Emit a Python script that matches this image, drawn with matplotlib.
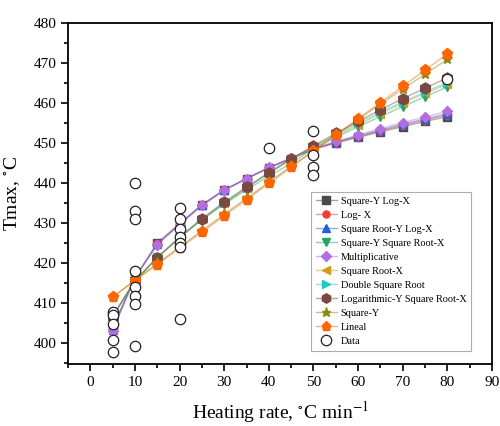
import matplotlib
matplotlib.use('Agg')
import matplotlib.pyplot as plt
from matplotlib.ticker import MultipleLocator

plt.rcParams['font.family'] = ['Liberation Serif', 'DejaVu Serif']
plt.rcParams['mathtext.fontset'] = 'stix'

# heating rates of the model curves
rate = [5, 10, 15, 20, 25, 30, 35, 40, 45, 50, 55, 60, 65, 70, 75, 80]

sqy_logx = [403.8, 416.3, 424.9, 429.8, 434.5, 438.2, 441.0, 443.7, 446.0, 448.3, 449.9, 451.3, 452.7, 454.0, 455.3, 456.5]
log_x = [403.4, 416.2, 424.7, 429.6, 434.4, 438.1, 441.0, 443.7, 446.0, 448.4, 450.0, 451.5, 452.9, 454.3, 455.6, 456.9]
sqrty_logx = [403.2, 416.2, 424.6, 429.5, 434.3, 438.1, 441.0, 443.7, 446.1, 448.5, 450.1, 451.7, 453.1, 454.6, 455.9, 457.2]
sqy_sqrtx = [406.8, 415.2, 421.3, 426.3, 430.7, 434.6, 438.2, 441.6, 444.8, 448.6, 451.3, 454.0, 456.5, 459.0, 461.5, 463.9]
multiplicative = [403.0, 416.2, 424.5, 429.5, 434.3, 438.1, 441.0, 443.8, 446.2, 448.6, 450.3, 451.9, 453.5, 455.0, 456.4, 457.8]
sqrt_x = [406.6, 415.4, 421.3, 426.3, 430.8, 434.8, 438.6, 442.3, 445.8, 448.9, 451.7, 454.5, 457.2, 459.8, 462.3, 464.6]
double_sqrt = [406.5, 415.5, 421.3, 426.3, 430.9, 434.9, 438.7, 442.4, 445.9, 449.0, 452.0, 454.9, 457.6, 460.2, 462.7, 465.0]
logy_sqrtx = [406.4, 415.6, 421.2, 426.3, 431.0, 435.1, 438.9, 442.5, 445.9, 449.2, 452.3, 455.3, 458.2, 461.0, 463.6, 466.2]
square_y = [411.4, 415.6, 419.8, 423.9, 428.0, 432.1, 436.1, 440.1, 444.1, 448.0, 451.9, 455.8, 459.6, 463.4, 467.1, 470.8]
lineal = [411.4, 415.5, 419.5, 423.6, 427.6, 431.7, 435.7, 439.8, 443.8, 447.9, 451.9, 456.0, 460.0, 464.1, 468.1, 472.2]

# experimental points
data_x = [5, 5, 5, 5, 5,
          10, 10, 10, 10, 10, 10, 10, 10,
          20, 20, 20, 20, 20, 20, 20,
          40, 50, 50, 50, 50, 80]
data_y = [407.7, 406.8, 404.6, 400.6, 397.7,
          439.9, 432.9, 430.9, 417.8, 413.8, 411.7, 409.7, 399.2,
          433.7, 431.0, 428.3, 426.4, 425.0, 424.0, 405.8,
          448.7, 453.0, 446.9, 444.0, 441.9, 465.8]

series = [
    ('Square-Y Log-X', sqy_logx, 's', '#4a4a4a'),
    ('Log- X', log_x, 'o', '#f23c3c'),
    ('Square Root-Y Log-X', sqrty_logx, '^', '#1f5fd8'),
    ('Square-Y Square Root-X', sqy_sqrtx, 'v', '#1fa567'),
    ('Multiplicative', multiplicative, 'D', '#b06ee0'),
    ('Square Root-X', sqrt_x, '<', '#d49a10'),
    ('Double Square Root', double_sqrt, '>', '#20c8c8'),
    ('Logarithmic-Y Square Root-X', logy_sqrtx, 'h', '#7a4a42'),
    ('Square-Y', square_y, '*', '#8a8a12'),
    ('Lineal', lineal, 'p', '#ff6600'),
]

fig = plt.figure(figsize=(5, 4.26), dpi=100)
ax = fig.add_axes([0.136, 0.145, 0.848, 0.802])

for name, vals, mk, col in series:
    ms = 8 if mk in ('*', 'p', 'h') else 6
    if mk == 'D':
        ms = 5.5
    ax.plot(rate, vals, color=col, lw=1.0, alpha=0.45)
    ax.plot(rate, vals, ls='none', marker=mk, color=col, ms=ms, mec=col)
    # legend proxy
    ax.plot([], [], color=col, lw=1.0, marker=mk, ms=ms * 0.85, mfc=col, mec=col, label=name)

ax.plot(data_x, data_y, ls='none', marker='o', ms=7.5, mfc='white', mec='#222222',
        mew=0.9, label='Data')

leg = ax.legend(loc='lower left', bbox_to_anchor=(0.562, 0.025), fontsize=7.4,
                frameon=True, fancybox=False, edgecolor='#999999', handlelength=2.0,
                borderpad=0.45, labelspacing=0.47, handletextpad=0.4)
for line in leg.get_lines()[:-1]:
    line.set_alpha(None)
    c = line.get_color()
    line.set_color(matplotlib.colors.to_rgba(c, 0.5))
    line.set_markerfacecolor(c)
    line.set_markeredgecolor(c)
leg.get_frame().set_linewidth(0.8)

ax.set_xlim(-5, 90)
ax.set_ylim(394.6, 480)
ax.xaxis.set_major_locator(MultipleLocator(10))
ax.xaxis.set_minor_locator(MultipleLocator(5))
ax.yaxis.set_major_locator(MultipleLocator(10))
ax.yaxis.set_minor_locator(MultipleLocator(5))
ax.tick_params(which='both', direction='out', top=False, right=False, labelsize=11, width=1.2)
ax.tick_params(which='major', length=5)
ax.tick_params(which='minor', length=3)
for sp in ax.spines.values():
    sp.set_linewidth(1.3)

ax.set_xlabel('Heating rate, $^{\\circ}$C min$^{-1}$', fontsize=14, labelpad=7)
ax.set_ylabel('Tmax, $^{\\circ}$C', fontsize=14, labelpad=8)

fig.savefig('out.png', dpi=100)
